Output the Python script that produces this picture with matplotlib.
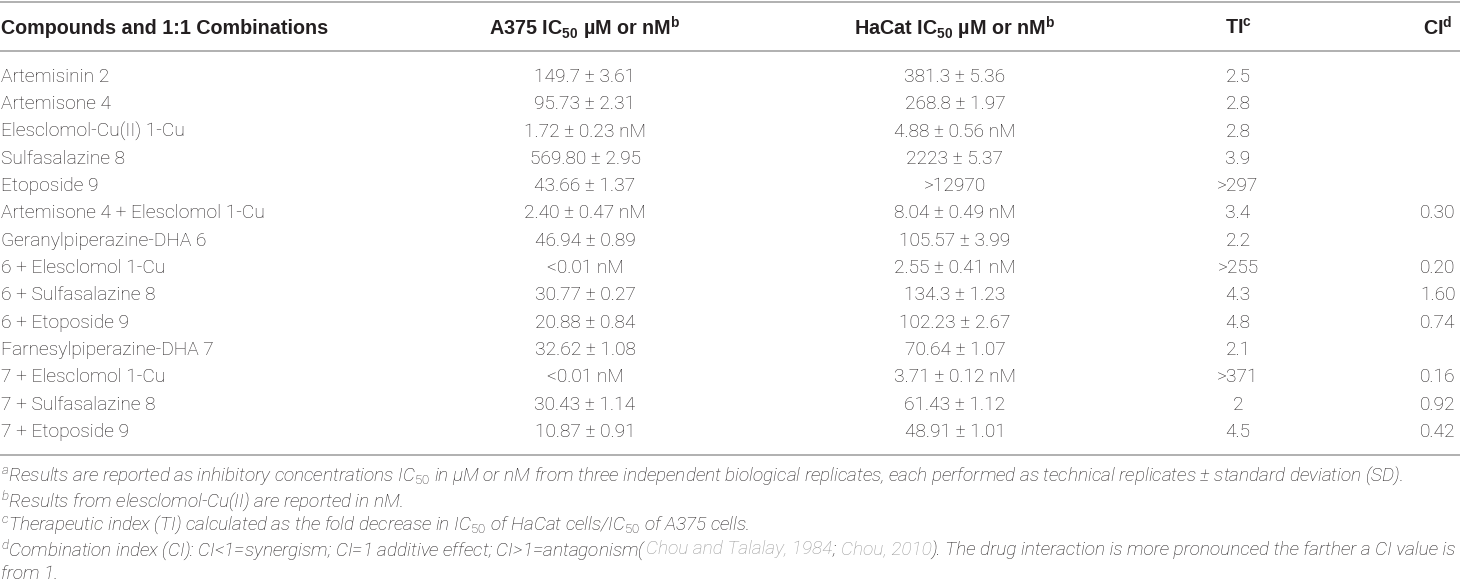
import matplotlib
matplotlib.use("Agg")
import matplotlib.pyplot as plt

# table contents
headers = ["Compounds and 1:1 Combinations",
           r"A375 IC$_{\mathbf{50}}$ µM or nM$^{\mathbf{b}}$",
           r"HaCat IC$_{\mathbf{50}}$ µM or nM$^{\mathbf{b}}$",
           r"TI$^{\mathbf{c}}$",
           r"CI$^{\mathbf{d}}$"]

compounds = ["Artemisinin 2", "Artemisone 4", "Elesclomol-Cu(II) 1-Cu",
             "Sulfasalazine 8", "Etoposide 9", "Artemisone 4 + Elesclomol 1-Cu",
             "Geranylpiperazine-DHA 6", "6 + Elesclomol 1-Cu", "6 + Sulfasalazine 8",
             "6 + Etoposide 9", "Farnesylpiperazine-DHA 7", "7 + Elesclomol 1-Cu",
             "7 + Sulfasalazine 8", "7 + Etoposide 9"]
a375 = ["149.7 ± 3.61", "95.73 ± 2.31", "1.72 ± 0.23 nM", "569.80 ± 2.95",
        "43.66 ± 1.37", "2.40 ± 0.47 nM", "46.94 ± 0.89", "<0.01 nM",
        "30.77 ± 0.27", "20.88 ± 0.84", "32.62 ± 1.08", "<0.01 nM",
        "30.43 ± 1.14", "10.87 ± 0.91"]
hacat = ["381.3 ± 5.36", "268.8 ± 1.97", "4.88 ± 0.56 nM", "2223 ± 5.37",
         ">12970", "8.04 ± 0.49 nM", "105.57 ± 3.99", "2.55 ± 0.41 nM",
         "134.3 ± 1.23", "102.23 ± 2.67", "70.64 ± 1.07", "3.71 ± 0.12 nM",
         "61.43 ± 1.12", "48.91 ± 1.01"]
ti = ["2.5", "2.8", "2.8", "3.9", ">297", "3.4", "2.2", ">255", "4.3", "4.8",
      "2.1", ">371", "2", "4.5"]
ci = ["", "", "", "", "", "0.30", "", "0.20", "1.60", "0.74", "", "0.16",
      "0.92", "0.42"]

GREY = "#999999"
footnotes = [
    [(r"$^{a}$Results are reported as inhibitory concentrations IC$_{50}$ in µM or nM from three "
      "independent biological replicates, each performed as technical replicates ± standard deviation (SD).", None)],
    [(r"$^{b}$Results from elesclomol-Cu(II) are reported in nM.", None)],
    [(r"$^{c}$Therapeutic index (TI) calculated as the fold decrease in IC$_{50}$ of HaCat cells/IC$_{50}$ of A375 cells.", None)],
    [(r"$^{d}$Combination index (CI): CI<1=synergism; CI=1 additive effect; CI>1=antagonism(", None),
     ("Chou and Talalay, 1984", GREY), ("; ", None), ("Chou, 2010", GREY),
     ("). The drug interaction is more pronounced the farther a CI value is", None)],
    [("from 1.", None)],
]

FAM = "Roboto"
HEAD_FAM = "Liberation Sans"
INK = "#231f20"
plt.rcParams["mathtext.fontset"] = "custom"
plt.rcParams["mathtext.rm"] = FAM + ":light"
plt.rcParams["mathtext.it"] = FAM + ":italic:light"
plt.rcParams["mathtext.bf"] = HEAD_FAM + ":bold"

W, H = 1460, 588
fig = plt.figure(figsize=(W / 100, H / 100), dpi=100)
ax = fig.add_axes([0, 0, 1, 1])
ax.set_xlim(0, W)
ax.set_ylim(H, 0)
ax.axis("off")

col_x = [1, 585, 955, 1238, 1438]
col_ha = ["left", "center", "center", "center", "center"]
head_y = 28
row_y0, row_dy = 77, 27.3
fs = 13.8

for x, ha, h in zip(col_x, col_ha, headers):
    ax.text(x, head_y, h, ha=ha, va="center", fontsize=14.2, family=HEAD_FAM,
            weight="bold", color=INK)

for i in range(len(compounds)):
    y = row_y0 + i * row_dy
    for x, ha, val in zip(col_x, col_ha, [compounds[i], a375[i], hacat[i], ti[i], ci[i]]):
        if val:
            ax.text(x, y, val, ha=ha, va="center", fontsize=fs, family=FAM,
                    weight="light", color=INK)

for y in [1.5, 51, 455]:
    ax.plot([0, W], [y, y], color="#a3a3a3", lw=1.2, solid_capstyle="butt")

# footnotes, drawn run by run so the citations can be grey
fig.canvas.draw()
renderer = fig.canvas.get_renderer()
foot_y0, foot_dy = 476, 24.4
for k, runs in enumerate(footnotes):
    x = 1
    y = foot_y0 + k * foot_dy
    for s, c in runs:
        t = ax.text(x, y, s, ha="left", va="center", fontsize=13.65, family=FAM,
                    weight="light", style="italic", color=c or INK)
        bb = t.get_window_extent(renderer)
        x += bb.width

fig.savefig("out.png", dpi=100)
